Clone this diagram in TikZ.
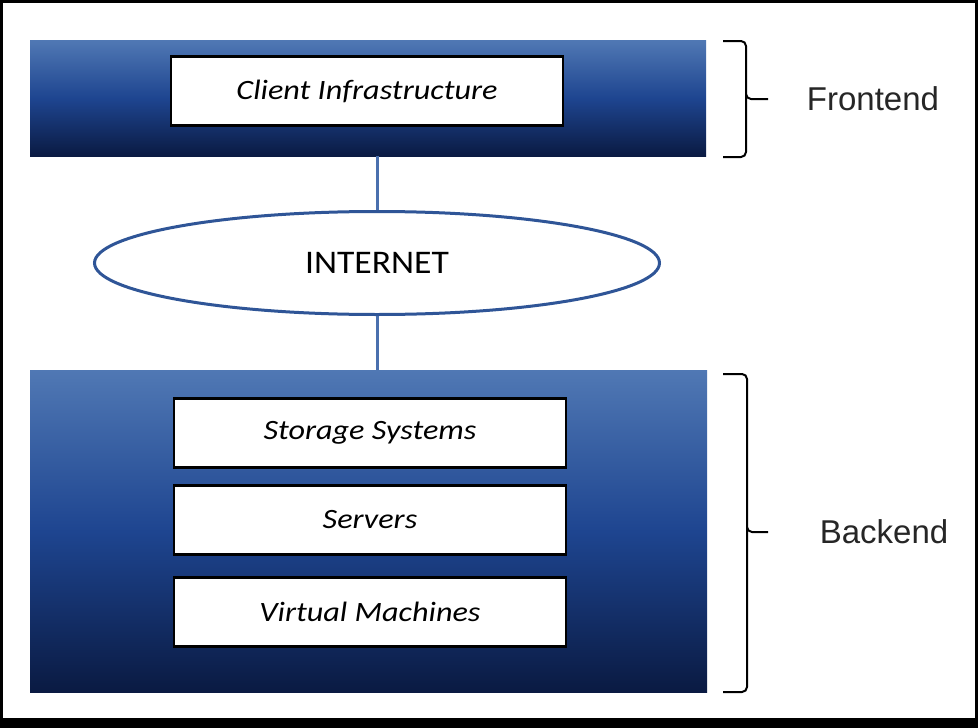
\documentclass[tikz,border=0pt]{standalone}
\usepackage{fontspec}
\setmainfont{Carlito}
\newfontfamily\boxfont[FakeStretch=1.15]{Carlito}
\newfontfamily\netfont[FakeStretch=1.08]{Carlito}
\newfontfamily\arialfont{Liberation Sans}
\usetikzlibrary{shapes.geometric}
\definecolor{bandtop}{HTML}{5078B4}
\definecolor{bandmid}{HTML}{1E4590}
\definecolor{bandbot}{HTML}{0A1A42}
\definecolor{linkblue}{HTML}{4A70AE}
\definecolor{ellblue}{HTML}{2F5597}
\begin{document}
\begin{tikzpicture}[x=1pt,y=-1pt,
  band/.style={draw=none, top color=bandtop, bottom color=bandbot, middle color=bandmid, inner sep=0pt, anchor=north west},
  layerbox/.style={draw=black, line width=2.5pt, fill=white, minimum width=392pt, minimum height=69pt, inner sep=0pt, font=\boxfont\fontsize{28}{30}\selectfont\itshape},
  cloud/.style={ellipse, draw=ellblue, line width=3pt, fill=white, minimum width=565pt, minimum height=103pt, inner sep=0pt, font=\netfont\fontsize{33}{35}\selectfont},
  link/.style={draw=linkblue, line width=3pt},
  bracket/.style={draw=black, line width=2pt, rounded corners=5pt},
  sidelabel/.style={font=\arialfont\fontsize{33}{36}\selectfont, inner sep=0pt, text=black!85}
]
\fill[black] (0,0) rectangle (978,728);
\fill[white] (3,3) rectangle (975,718);
\useasboundingbox (0,0) rectangle (978,728);

\node[band, minimum width=676pt, minimum height=116pt] (front) at (30,40) {};
\node[band, minimum width=677pt, minimum height=322pt] (back) at (30,370) {};

\node[layerbox] (client) at (367,91) {Client Infrastructure};
\node[layerbox] (storage) at (370,433) {Storage Systems};
\node[layerbox] (servers) at (370,520) {Servers};
\node[layerbox] (vm) at (370,612) {Virtual Machines};

\node[cloud] (net) at (377,263) {INTERNET};

\draw[link] (net.north) -- (net.north |- front.south);
\draw[link] (net.south) -- (net.south |- back.north);

\draw[bracket] (723,41) -- (746,41) -- (746,99) -- (768,99);
\draw[bracket] (746,95) -- (746,157) -- (723,157);
\draw[bracket] (723,374) -- (747,374) -- (747,532) -- (768,532);
\draw[bracket] (747,528) -- (747,692) -- (723,692);

\node[sidelabel] (frontlbl) at (873,99) {Frontend};
\node[sidelabel] (backlbl) at (884,532) {Backend};
\end{tikzpicture}
\end{document}
